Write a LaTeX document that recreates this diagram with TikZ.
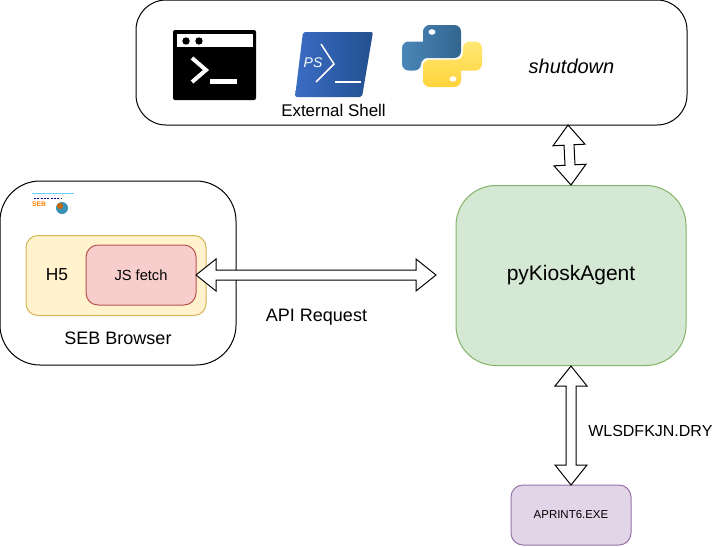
\documentclass[tikz,border=0pt]{standalone}
\usepackage{fontspec}
\setmainfont{Liberation Sans}
\usetikzlibrary{calc}
\definecolor{ygfill}{HTML}{FFF2CC}\definecolor{ygline}{HTML}{D6B656}
\definecolor{rdfill}{HTML}{F8CECC}\definecolor{rdline}{HTML}{B85450}
\definecolor{gnfill}{HTML}{D5E8D4}\definecolor{gnline}{HTML}{82B366}
\definecolor{prfill}{HTML}{E1D5E7}\definecolor{prline}{HTML}{9673A6}
\definecolor{psa}{HTML}{3A6CC4}\definecolor{psb}{HTML}{23508F}
\definecolor{pya}{HTML}{4A86B8}\definecolor{pyb}{HTML}{32668F}
\definecolor{pyc}{HTML}{FFE873}\definecolor{pyd}{HTML}{FFD43B}
\tikzset{
  panel/.style={draw=black,fill=white,rounded corners=#1,line width=0.75pt,inner sep=0pt},
  colorbox/.style={rounded corners=#1,line width=0.75pt,inner sep=0pt,align=center},
  dblarrow/.style={draw=black,fill=white,line width=0.75pt,line join=miter},
  lbl/.style={inner sep=0pt,font=\fontsize{13.5}{16}\selectfont},
}
\newcommand{\dbl}[2]{%
 \draw[dblarrow]
  let \n1={15pt}, \n2={12pt}, \n3={3.75pt} in
  (#1)
  -- ($(#1)!\n1!(#2)!\n2!90:(#2)$)
  -- ($(#1)!\n1!(#2)!\n3!90:(#2)$)
  -- ($(#2)!\n1!(#1)!\n3!-90:(#1)$)
  -- ($(#2)!\n1!(#1)!\n2!-90:(#1)$)
  -- (#2)
  -- ($(#2)!\n1!(#1)!\n2!90:(#1)$)
  -- ($(#2)!\n1!(#1)!\n3!90:(#1)$)
  -- ($(#1)!\n1!(#2)!\n3!-90:(#2)$)
  -- ($(#1)!\n1!(#2)!\n2!-90:(#2)$)
  -- cycle;}
\begin{document}
\begin{tikzpicture}[x=0.75pt,y=-0.75pt]
\useasboundingbox (0,0) rectangle (717,546);
\fill[white] (0,0) rectangle (717,546);
% main boxes
\node[panel=22.5pt,minimum width=551*0.75pt,minimum height=125*0.75pt] (shell) at (411.5,62.5) {};
\node[panel=30pt,minimum width=236*0.75pt,minimum height=184*0.75pt] (seb) at (118,273) {};
\node[colorbox=9pt,draw=ygline,fill=ygfill,minimum width=180*0.75pt,minimum height=80*0.75pt] (h5) at (116,275.5) {};
\node[colorbox=9pt,draw=rdline,fill=rdfill,minimum width=110*0.75pt,minimum height=60*0.75pt,font=\fontsize{11}{13}\selectfont] (js) at (141,275) {JS fetch};
\node[colorbox=30pt,draw=gnline,fill=gnfill,minimum width=230*0.75pt,minimum height=180*0.75pt,font=\fontsize{15.75}{19}\selectfont] (agent) at (571,275.5) {\raisebox{-1.2pt}{pyKioskAgent}};
\node[colorbox=9pt,draw=prline,fill=prfill,minimum width=120*0.75pt,minimum height=60*0.75pt,font=\fontsize{8.6}{10}\selectfont] (aprint) at (571,515) {APRINT6.EXE};
% labels
\node[lbl,font=\fontsize{13}{16}\selectfont] (h5lbl) at (57,275) {H5};
\node[lbl] (seblbl) at (118,338) {SEB Browser};
\node[lbl] (api) at (316.5,317.5) {API Request};
\node[lbl,font=\fontsize{12.7}{15}\selectfont] (ext) at (333.5,110) {External Shell};
\node[lbl,font=\fontsize{15}{18}\itshape\selectfont] (sd) at (571.5,66) {shutdown};
\node[lbl,anchor=west,font=\fontsize{12}{14}\selectfont] (wls) at (588,431) {WLSDFKJN.DRY};
% connectors
\coordinate (jsR) at (196,275);
\coordinate (agL) at (436,275);
\coordinate (shB) at (568,125);
\coordinate (agT) at (571,185);
\coordinate (agB) at (571,366);
\coordinate (apT) at (571,485);
\dbl{jsR}{agL}
\dbl{shB}{agT}
\dbl{agB}{apT}
% terminal icon
\fill[black,rounded corners=1.5pt] (173,30) rectangle (256,100);
\fill[white] (177,34) rectangle (253,47);
\fill[black] (186,41) circle (3.7) (199,41) circle (3.7);
\draw[white,line width=3pt] (192,58) -- (206,70) -- (192,82);
\fill[white] (210,79) rectangle (237,84);
% powershell icon
\path[left color=psa,right color=psb,rounded corners=1.5pt] (303,32) -- (373,32) -- (362,97) -- (295,97) -- cycle;
\draw[white,line width=1.1pt] (321,44) -- (334,64) -- (316,82);
\fill[white] (335,81) rectangle (361,83);
\node[inner sep=0pt,white,font=\fontsize{10.5}{12}\itshape\selectfont] (psl) at (313,63) {PS};
% python icon
\path[left color=pya,right color=pyb] (442,41.5) -- (423,41.5) [rounded corners=5pt] -- (423,25) -- (461,25) -- (461,58) -- (421,58) -- (421,70.5) -- (402,70.5) -- (402,41.5) -- (442,41.5);
\fill[white] (432,32) ellipse (3.5 and 2.8);
\path[top color=pyc,bottom color=pyd] (442,70.5) -- (461,70.5) [rounded corners=5pt] -- (461,87) -- (423,87) -- (423,59.5) -- (463,59.5) -- (463,41.5) -- (482,41.5) -- (482,70.5) -- (442,70.5);
\fill[white] (453,79) ellipse (3.5 and 2.8);
% SEB logo
\draw[cyan!60!white,line width=0.6pt] (32,193) -- (74,193);
\draw[blue!50!black,line width=0.4pt,dash pattern=on 1.5pt off 1pt] (34,198) -- (62,198);
\node[inner sep=0pt,text=orange,font=\fontsize{5}{6}\bfseries\selectfont] (seblogo) at (39,204.5) {SEB};
\fill[cyan!70!black] (62,208) circle (6);
\fill[orange!80!black] (60,206) circle (3);
\end{tikzpicture}
\end{document}
